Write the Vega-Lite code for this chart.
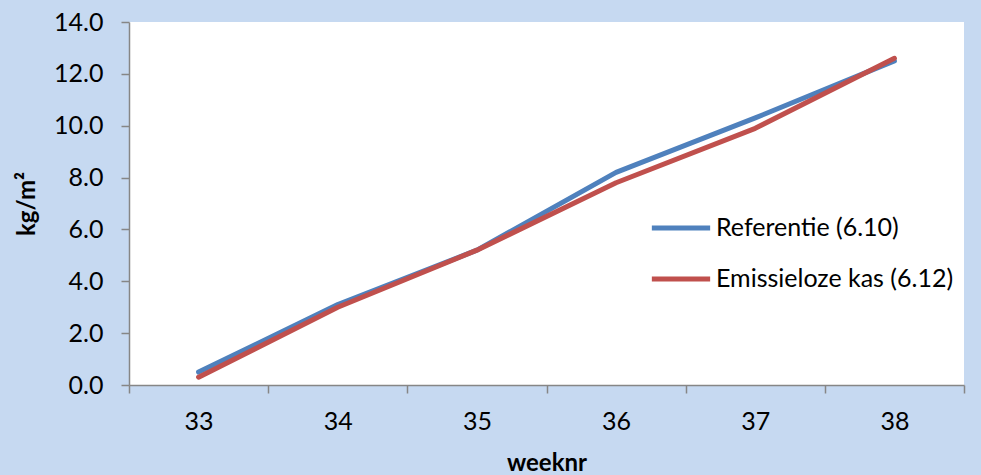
{
  "$schema": "https://vega.github.io/schema/vega-lite/v6.json",
  "width": 835,
  "height": 363,
  "autosize": {"type": "none"},
  "padding": {"left": 129, "top": 22, "right": 17, "bottom": 90},
  "background": "#C6D9F1",
  "config": {
    "font": "Lato",
    "view": {"fill": "white", "stroke": null},
    "axis": {"labelFont": "Lato", "titleFont": "Lato", "labelColor": "black", "titleColor": "black", "domainColor": "#868686", "tickColor": "#868686", "domainWidth": 1.5, "tickWidth": 1.5, "grid": false}
  },
  "data": {
    "values": [
      {"week": 33, "serie": "Referentie (6.10)", "kg": 0.5},
      {"week": 34, "serie": "Referentie (6.10)", "kg": 3.1},
      {"week": 35, "serie": "Referentie (6.10)", "kg": 5.2},
      {"week": 36, "serie": "Referentie (6.10)", "kg": 8.2},
      {"week": 37, "serie": "Referentie (6.10)", "kg": 10.3},
      {"week": 38, "serie": "Referentie (6.10)", "kg": 12.5},
      {"week": 33, "serie": "Emissieloze kas (6.12)", "kg": 0.3},
      {"week": 34, "serie": "Emissieloze kas (6.12)", "kg": 3.0},
      {"week": 35, "serie": "Emissieloze kas (6.12)", "kg": 5.2},
      {"week": 36, "serie": "Emissieloze kas (6.12)", "kg": 7.8},
      {"week": 37, "serie": "Emissieloze kas (6.12)", "kg": 9.9},
      {"week": 38, "serie": "Emissieloze kas (6.12)", "kg": 12.6}
    ]
  },
  "encoding": {
    "x": {
      "field": "week", "type": "quantitative",
      "scale": {"domain": [32.5, 38.5], "nice": false, "zero": false},
      "axis": {
        "values": [32.5, 33.5, 34.5, 35.5, 36.5, 37.5, 38.5],
        "labelExpr": "datum.value < 38 ? format(datum.value + 0.5, 'd') : ''",
        "labelOffset": 69.6, "labelOverlap": false, "labelBound": false, "labelFlush": false,
        "tickSize": 8, "labelPadding": 16, "labelFontSize": 25,
        "title": "weeknr", "titleFontSize": 24, "titleFontWeight": "bold", "titlePadding": 17
      }
    },
    "y": {
      "field": "kg", "type": "quantitative",
      "scale": {"domain": [0, 14], "nice": false},
      "axis": {
        "values": [0, 2, 4, 6, 8, 10, 12, 14], "format": ".1f",
        "tickSize": 8, "labelPadding": 18, "labelFontSize": 25,
        "title": "kg/m²", "titleFontSize": 24, "titleFontWeight": "bold", "titlePadding": 14
      }
    },
    "color": {
      "field": "serie", "type": "nominal",
      "scale": {"domain": ["Referentie (6.10)", "Emissieloze kas (6.12)"], "range": ["#4F81BD", "#C0504D"]},
      "legend": {
        "title": null, "orient": "none", "legendX": 520, "legendY": 174,
        "symbolType": "M-1,0L1,0", "symbolSize": 3400, "symbolStrokeWidth": 5,
        "labelFontSize": 25, "labelFont": "Lato", "labelColor": "black", "labelOffset": 3, "labelLimit": 400, "rowPadding": 6
      }
    }
  },
  "layer": [
    {
      "transform": [{"filter": "datum.serie === 'Referentie (6.10)'"}],
      "mark": {"type": "line", "strokeWidth": 5, "strokeCap": "round", "strokeJoin": "round"}
    },
    {
      "transform": [{"filter": "datum.serie === 'Emissieloze kas (6.12)'"}],
      "mark": {"type": "line", "strokeWidth": 5, "strokeCap": "round", "strokeJoin": "round"}
    }
  ]
}
